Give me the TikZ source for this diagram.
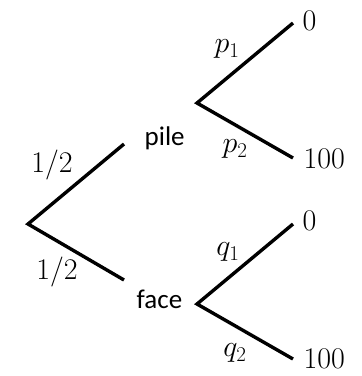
\RequirePackage{fix-cm}
\documentclass[tikz,border=0pt]{standalone}
\usepackage{fontspec}
\newfontfamily\wordfont{Carlito}
\usepackage{tikz}

\begin{document}
\begin{tikzpicture}[x=1pt, y=-1pt, line width=3.4pt,
    word/.style={inner sep=0pt, anchor=base west, font=\wordfont\fontsize{27}{30}\selectfont},
    lbl/.style={inner sep=0pt, font=\fontsize{30}{34}\selectfont},
    leaf/.style={inner sep=0pt, anchor=base west, font=\fontsize{30}{34}\selectfont}]
    \useasboundingbox (0,0) rectangle (362,376);

    % First draw: the coin
    \coordinate (root) at (28,224);
    \coordinate (pileEnd) at (124,144);
    \coordinate (faceEnd) at (124,280);
    \node[word] (pile) at (143,145) {pile};
    \node[word] (face) at (135,308) {face};
    \node[lbl] (halfUp) at (52,165) {$1/2$};
    \node[lbl] (halfDown) at (57,272) {$1/2$};

    \draw (pileEnd) -- (root) -- (faceEnd);

    % Second draw after pile
    \coordinate (pileFork) at (197,103);
    \coordinate (pUpEnd) at (293,23);
    \coordinate (pDownEnd) at (293,158);
    \node[leaf] (pZero) at (301,30) {$0$};
    \node[leaf] (pHundred) at (302,168) {$100$};
    \node[lbl] (pOne) at (227,49) {$p_1$};
    \node[lbl] (pTwo) at (235,149) {$p_2$};

    \draw (pUpEnd) -- (pileFork) -- (pDownEnd);

    % Second draw after face
    \coordinate (faceFork) at (197,304);
    \coordinate (qUpEnd) at (293,224);
    \coordinate (qDownEnd) at (293,359);
    \node[leaf] (qZero) at (301,230) {$0$};
    \node[leaf] (qHundred) at (302,368) {$100$};
    \node[lbl] (qOne) at (228,252) {$q_1$};
    \node[lbl] (qTwo) at (235,353) {$q_2$};

    \draw (qUpEnd) -- (faceFork) -- (qDownEnd);
\end{tikzpicture}
\end{document}
